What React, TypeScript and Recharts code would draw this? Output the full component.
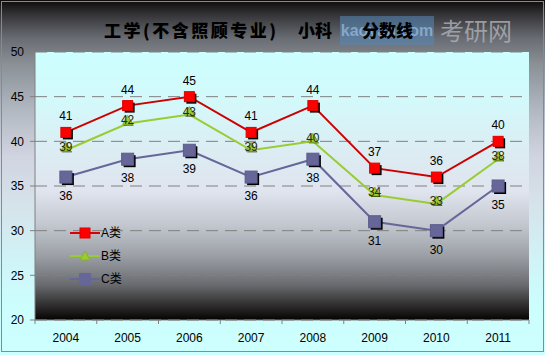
import React from 'react';
import { LineChart, Line, XAxis, YAxis, CartesianGrid, LabelList, Legend } from 'recharts';

const years = ['2004', '2005', '2006', '2007', '2008', '2009', '2010', '2011'];
const seriesA = [41, 44, 45, 41, 44, 37, 36, 40];
const seriesB = [39, 42, 43, 39, 40, 34, 33, 38];
const seriesC = [36, 38, 39, 36, 38, 31, 30, 35];
const yTicks = [20, 25, 30, 35, 40, 45, 50];
const seriesNames = ['A类', 'B类', 'C类'];

const data = years.map((year, i) => ({ year, A: seriesA[i], B: seriesB[i], C: seriesC[i] }));

const numFont = '"Liberation Sans", Arial, sans-serif';
const cjkFont = '"Liberation Sans", "Noto Sans CJK SC", sans-serif';

// half of one category slot (plot width 494 / 8 categories / 2)
const HALF_SLOT = 30.875;

const squareDot = (fill: string, stroke: string, half: number) => (props: any) => {
  const { cx, cy, index } = props;
  if (cx == null || cy == null) return <g key={index} />;
  return (
    <g key={index}>
      <rect x={cx - half + 2} y={cy - half + 2} width={half * 2} height={half * 2} fill="#000" />
      <rect x={cx - half} y={cy - half} width={half * 2} height={half * 2} fill={fill} stroke={stroke} strokeWidth={1} />
    </g>
  );
};

const triangleDot = (props: any) => {
  const { cx, cy, index } = props;
  if (cx == null || cy == null) return <g key={index} />;
  const pts = (dx: number, dy: number) =>
    `${cx - 5 + dx},${cy + 1 + dy} ${cx + 5 + dx},${cy + 1 + dy} ${cx + dx},${cy - 8 + dy}`;
  return (
    <g key={index}>
      <polygon points={pts(1, 1)} fill="#1a1a00" />
      <polygon points={pts(0, 0)} fill="#99cc33" stroke="#8ab02a" strokeWidth={1} />
    </g>
  );
};

const labelAt = (dy: number, color: string) => (props: any) => {
  const { x, y, value, index } = props;
  return (
    <text key={index} x={x} y={y + dy} textAnchor="middle" fontSize={12} fontFamily={numFont} fill={color}>
      {value}
    </text>
  );
};

const CategoryTick = (props: any) => {
  const { x, y, payload } = props;
  const top = y - 13;
  const isLast = payload.value === years[years.length - 1];
  return (
    <g>
      <line x1={x - HALF_SLOT} x2={x - HALF_SLOT} y1={top} y2={top + 4} stroke="#808080" />
      {isLast && <line x1={x + HALF_SLOT} x2={x + HALF_SLOT} y1={top} y2={top + 4} stroke="#808080" />}
      <text x={x} y={y} dy="0.71em" textAnchor="middle" fontSize={12} fontFamily={numFont} fill="#000">
        {payload.value}
      </text>
    </g>
  );
};

const legendMarkers = [
  (cx: number, cy: number) => <rect x={cx - 5} y={cy - 5} width={10} height={10} fill="#ff0000" stroke="#dd0000" />,
  (cx: number, cy: number) => (
    <polygon points={`${cx - 5},${cy + 4} ${cx + 5},${cy + 4} ${cx},${cy - 5}`} fill="#99cc33" stroke="#8ab02a" />
  ),
  (cx: number, cy: number) => <rect x={cx - 6} y={cy - 6} width={12} height={12} fill="#666699" />,
];
const legendColors = ['#dd0000', '#99cc33', '#666699'];

const renderLegend = () => (
  <div style={{ display: 'flex', flexDirection: 'column' }}>
    {seriesNames.map((name, i) => (
      <div key={name} style={{ display: 'flex', alignItems: 'center', height: 23 }}>
        <svg width={31} height={14}>
          <line x1={0} x2={30} y1={7} y2={7} stroke={legendColors[i]} strokeWidth={2} />
          {legendMarkers[i](15, 7)}
        </svg>
        <span style={{ fontSize: 12, fontFamily: cjkFont, color: '#000', lineHeight: '14px' }}>{name}</span>
      </div>
    ))}
  </div>
);

export default function App() {
  return (
    <div
      style={{
        position: 'absolute',
        left: 0,
        top: 0,
        width: 545,
        height: 355,
        background:
          'linear-gradient(to bottom, #0e0a0a 0%, #3c3c40 5%, #6a6e74 11%, #8a9096 18%, #b2b8c2 31%, #d0d4e0 44%, #d6e2ea 57%, #d0f2f6 72%, #ccfefe 86%, #ccffff 100%)',
      }}
    >
      <svg width={0} height={0} style={{ position: 'absolute' }}>
        <defs>
          <linearGradient id="plotBg" x1="0" y1="0" x2="0" y2="1">
            <stop offset="0%" stopColor="#ccffff" />
            <stop offset="20%" stopColor="#d4f8fa" />
            <stop offset="38%" stopColor="#dcecf2" />
            <stop offset="52%" stopColor="#e0e4ee" />
            <stop offset="64%" stopColor="#c4c8d0" />
            <stop offset="76%" stopColor="#9ca0a6" />
            <stop offset="87%" stopColor="#686a6e" />
            <stop offset="95%" stopColor="#2c2a2a" />
            <stop offset="100%" stopColor="#050202" />
          </linearGradient>
        </defs>
      </svg>
      <div
        style={{
          position: 'absolute',
          left: 1,
          top: 1,
          width: 541,
          height: 349,
          border: '1px solid #8a8a8a',
        }}
      />
      {/* watermark */}
      <div
        style={{
          position: 'absolute',
          left: 340,
          top: 16,
          width: 94,
          height: 29,
          background: 'rgba(86,136,186,0.55)',
          color: 'rgba(150,185,220,0.75)',
          fontFamily: numFont,
          fontWeight: 'bold',
          fontSize: 16,
          lineHeight: '29px',
          textAlign: 'center',
          overflow: 'hidden',
          whiteSpace: 'nowrap',
        }}
      >
        kaoyan.com
      </div>
      <div
        style={{
          position: 'absolute',
          left: 440,
          top: 13,
          fontFamily: '"Noto Sans CJK SC", sans-serif',
          fontSize: 24,
          lineHeight: '34px',
          color: 'rgba(170,172,178,0.85)',
        }}
      >
        考研网
      </div>
      {/* title */}
      {[
        { t: '工学(不含照顾专业)', x: 104, ls: 2.5 },
        { t: '小科', x: 298, ls: 0 },
        { t: '分数线', x: 362, ls: 0 },
      ].map((p) => (
        <div
          key={p.t}
          style={{
            position: 'absolute',
            left: p.x,
            top: 19,
            fontFamily: '"Noto Sans CJK SC", sans-serif',
            fontWeight: 900,
            fontSize: 17,
            lineHeight: '22px',
            color: '#000',
            whiteSpace: 'nowrap',
            letterSpacing: p.ls,
          }}
        >
          {p.t}
        </div>
      ))}
      <div style={{ position: 'absolute', left: 0, top: 0 }}>
        <LineChart width={545} height={355} data={data} margin={{ top: 52, right: 16, bottom: 5, left: 0 }}>
          <CartesianGrid
            vertical={false}
            stroke="#808080"
            strokeDasharray="12 7"
            fill="url(#plotBg)"
            fillOpacity={1}
          />
          <XAxis
            dataKey="year"
            height={30}
            padding={{ left: HALF_SLOT, right: HALF_SLOT }}
            tickLine={false}
            tickSize={4}
            tickMargin={9}
            axisLine={{ stroke: '#808080' }}
            tick={<CategoryTick />}
            interval={0}
          />
          <YAxis
            domain={[20, 50]}
            ticks={yTicks}
            width={35}
            tickSize={5}
            tickMargin={6}
            axisLine={{ stroke: '#808080' }}
            tickLine={{ stroke: '#808080' }}
            tick={{ fill: '#000', fontSize: 12, fontFamily: numFont }}
            interval={0}
          />
          <Legend
            layout="vertical"
            align="center"
            verticalAlign="middle"
            wrapperStyle={{ left: 70, top: 221, width: 70 }}
            content={renderLegend}
          />
          <Line
            dataKey="C"
            name="C类"
            stroke="#666699"
            strokeWidth={2}
            dot={squareDot('#666699', '#5c5c8c', 6)}
            activeDot={false}
            isAnimationActive={false}
          >
            <LabelList dataKey="C" content={labelAt(23, '#000')} />
          </Line>
          <Line
            dataKey="B"
            name="B类"
            stroke="#99cc33"
            strokeWidth={2}
            dot={triangleDot}
            activeDot={false}
            isAnimationActive={false}
          >
            <LabelList dataKey="B" content={labelAt(1, '#2a2a10')} />
          </Line>
          <Line
            dataKey="A"
            name="A类"
            stroke="#cc0000"
            strokeWidth={2}
            dot={squareDot('#ff0000', '#dd0000', 5)}
            activeDot={false}
            isAnimationActive={false}
          >
            <LabelList dataKey="A" content={labelAt(-12, '#000')} />
          </Line>
        </LineChart>
      </div>
    </div>
  );
}
